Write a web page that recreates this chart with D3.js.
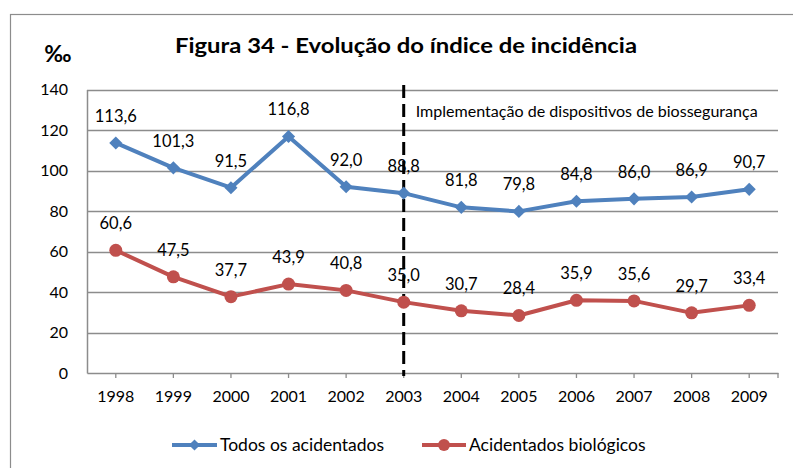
<!DOCTYPE html>
<html><head><meta charset="utf-8">
<script src="https://cdn.jsdelivr.net/npm/d3@7"></script>
<style>
body{margin:0;background:#fff;}
svg text{font-family:Lato, "Open Sans", sans-serif;fill:#000;}
</style></head>
<body><svg id="c" width="793" height="468"></svg>
<script>
const years = ["1998","1999","2000","2001","2002","2003","2004","2005","2006","2007","2008","2009"];
const todos = [113.6,101.3,91.5,116.8,92.0,88.8,81.8,79.8,84.8,86.0,86.9,90.7];
const biologicos = [60.6,47.5,37.7,43.9,40.8,35.0,30.7,28.4,35.9,35.6,29.7,33.4];
const yTicks = [0,20,40,60,80,100,120,140];
const seriesNames = ["Todos os acidentados","Acidentados biológicos"];
const title = "Figura 34 - Evolução do índice de incidência";
const unit = "‰";
const marker = "2003";
const markerText = "Implementação de dispositivos de biossegurança";

const svg = d3.select("#c");
const L=87, T=89.5, R=778, B=373;
const x = d3.scaleBand().domain(years).range([L,R]);
const xc = d => x(d)+x.bandwidth()/2;
const y = d3.scaleLinear().domain([0,140]).range([B,T]);
const fmt = v => v.toFixed(1).replace(".",",");

// outer border
svg.append("rect").attr("x",10.5).attr("y",14.5).attr("width",800).attr("height",500)
  .attr("fill","none").attr("stroke","#8c8c8c").attr("stroke-width",1.2);

// gridlines
svg.append("g").selectAll("line").data(yTicks.filter(d=>d>0)).join("line")
  .attr("x1",L).attr("x2",R).attr("y1",d=>Math.round(y(d))+0.5).attr("y2",d=>Math.round(y(d))+0.5)
  .attr("stroke","#8c8c8c").attr("stroke-width",1.3);

// y axis
const ya = svg.append("g").attr("transform",`translate(${L},0)`)
  .call(d3.axisLeft(y).tickValues(yTicks).tickSize(0).tickPadding(19));
ya.select(".domain").attr("stroke","#8c8c8c").attr("stroke-width",1.5);
ya.selectAll("text").style("font-size","16px").style("font-family","Lato");

// x axis
const xa = svg.append("g").attr("transform",`translate(0,${B})`)
  .call(d3.axisBottom(x).tickSize(0).tickPadding(18));
xa.select(".domain").attr("stroke","#8c8c8c").attr("stroke-width",1.5);
xa.selectAll("text").style("font-size","16px").style("font-family","Lato");
svg.append("g").selectAll("line").data(years).join("line")
  .attr("x1",d=>xc(d)).attr("x2",d=>xc(d)).attr("y1",B).attr("y2",B+5)
  .attr("stroke","#8c8c8c").attr("stroke-width",1.3);
svg.append("line").attr("x1",R).attr("x2",R).attr("y1",B).attr("y2",B+5)
  .attr("stroke","#8c8c8c").attr("stroke-width",1.3);

// dashed marker
svg.append("line").attr("x1",xc(marker)).attr("x2",xc(marker)).attr("y1",85).attr("y2",376)
  .attr("stroke","#000").attr("stroke-width",3).attr("stroke-dasharray","13,6");
svg.append("text").attr("x",xc(marker)+12).attr("y",117).style("font-size","15.5px")
  .attr("textLength",342).attr("lengthAdjust","spacingAndGlyphs").text(markerText);

const colors = ["#4F81BD","#C0504D"];
const data = [todos,biologicos];
const line = d3.line().x((d,i)=>xc(years[i])).y(d=>y(d));
data.forEach((s,k)=>{
  svg.append("path").datum(s).attr("d",line).attr("fill","none")
    .attr("stroke",colors[k]).attr("stroke-width",4).attr("stroke-linejoin","round");
  const g = svg.append("g").selectAll("g").data(s).join("g")
    .attr("transform",(d,i)=>`translate(${xc(years[i])},${y(d)})`);
  if(k===0){
    g.append("path").attr("d",d3.symbol(d3.symbolDiamond2,110)).attr("fill",colors[k]);
  } else {
    g.append("circle").attr("r",6.5).attr("fill",colors[k]);
  }
  svg.append("g").selectAll("text").data(s).join("text")
    .attr("x",(d,i)=>xc(years[i])).attr("y",d=>y(d)-21)
    .attr("text-anchor","middle").style("font-size","16.5px").text(d=>fmt(d));
});

// title and unit
svg.append("text").attr("x",406).attr("y",53).attr("text-anchor","middle")
  .style("font-size","21px").style("font-weight","bold")
  .attr("textLength",462).attr("lengthAdjust","spacingAndGlyphs").text(title);
svg.append("text").attr("x",58).attr("y",62).attr("text-anchor","middle")
  .style("font-size","23px").style("font-weight","bold").text(unit);

// legend
const lg = [{x1:172,x2:217,tx:220},{x1:422,x2:466,tx:469}];
seriesNames.forEach((n,k)=>{
  const o = lg[k], ly = 445;
  svg.append("line").attr("x1",o.x1).attr("x2",o.x2).attr("y1",ly).attr("y2",ly)
    .attr("stroke",colors[k]).attr("stroke-width",4);
  const cx=(o.x1+o.x2)/2;
  if(k===0) svg.append("path").attr("transform",`translate(${cx},${ly})`)
    .attr("d",d3.symbol(d3.symbolDiamond2,80)).attr("fill",colors[k]);
  else svg.append("circle").attr("cx",cx).attr("cy",ly).attr("r",6).attr("fill",colors[k]);
  svg.append("text").attr("x",o.tx).attr("y",ly+6).style("font-size","17.5px").text(n);
});
</script></body></html>
